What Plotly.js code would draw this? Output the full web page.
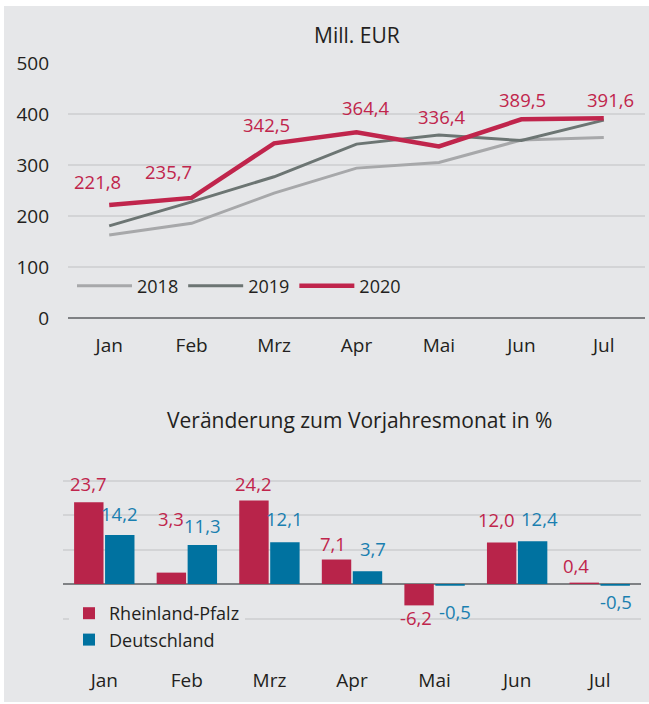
<!DOCTYPE html>
<html>
<head>
<meta charset="utf-8">
<script src="https://cdn.plot.ly/plotly-3.0.1.min.js"></script>
<style>
html,body{margin:0;padding:0;background:#ffffff;}
#chart{position:absolute;left:4px;top:6px;width:645px;height:696px;}
</style>
</head>
<body>
<div id="chart"></div>
<script>
// ---- data ----
const months = ['Jan','Feb','Mrz','Apr','Mai','Jun','Jul'];
const y2018 = [163, 186, 245, 294, 305, 349, 354];
const y2019 = [181, 228, 277, 341, 359, 348, 388];
const y2020 = [221.8, 235.7, 342.5, 364.4, 336.4, 389.5, 391.6];
const rlp = [23.7, 3.3, 24.2, 7.1, -6.2, 12.0, 0.4];
const deu = [14.2, 11.3, 12.1, 3.7, -0.5, 12.4, -0.5];
const yTicks = [0, 100, 200, 300, 400, 500];

// ---- style ----
const FONT = 'Open Sans, sans-serif';
const TXT = '#231f20';
const BG = '#e6e7e9';
const GRID = '#d3d4d6';
const ZERO = '#7f8184';
const RED = '#c0254c';
const BAR_RED = '#b8244a';
const BAR_BLUE = '#0072a0';
const LBL_BLUE = '#1a7fb0';
const TICK_SIZE = 19, LBL_SIZE = 18.5, TITLE_SIZE = 21, LEG_SIZE = 18;
// label offsets (px) [xshift, yshift]
const lineLblShift = [[-12,23],[-23,26],[-8,19],[9,25],[3,30],[1,20],[7,19]];
const rlpShift = [[0,19],[0,54],[0,17],[-4,16],[-3,-12],[-5,23],[-8,17]];
const deuShift = [[0,22],[0,20],[0,24],[5,23],[5,-26],[7,23],[1,-16]];
const BAROFF = 15.5;

const fmt = v => v.toFixed(1).replace('.', ',');

const traces = [
  {type:'scatter', mode:'lines', name:'2018', x:months, y:y2018, xaxis:'x', yaxis:'y',
   line:{color:'#a7a8aa', width:3}, legend:'legend', hoverinfo:'skip'},
  {type:'scatter', mode:'lines', name:'2019', x:months, y:y2019, xaxis:'x', yaxis:'y',
   line:{color:'#6c7573', width:3}, legend:'legend', hoverinfo:'skip'},
  {type:'scatter', mode:'lines', name:'2020', x:months, y:y2020, xaxis:'x', yaxis:'y',
   line:{color:RED, width:4.5}, legend:'legend', hoverinfo:'skip'},
  {type:'bar', name:'Rheinland-Pfalz', x:months, y:rlp, xaxis:'x2', yaxis:'y2',
   marker:{color:BAR_RED}, legend:'legend2', hoverinfo:'skip'},
  {type:'bar', name:'Deutschland', x:months, y:deu, xaxis:'x2', yaxis:'y2',
   marker:{color:BAR_BLUE}, legend:'legend2', hoverinfo:'skip'}
];

const annotations = [
  {xref:'paper', yref:'paper', x:353/645, y:1-29/696, text:'Mill. EUR', showarrow:false,
   font:{family:FONT, size:TITLE_SIZE, color:TXT}, xanchor:'center', yanchor:'middle'},
  {xref:'paper', yref:'paper', x:355/645, y:1-414/696, text:'Veränderung zum Vorjahresmonat in %', showarrow:false,
   font:{family:FONT, size:TITLE_SIZE, color:TXT}, xanchor:'center', yanchor:'middle'}
];
months.forEach((m,i) => {
  annotations.push({xref:'x', yref:'y', x:m, y:y2020[i], text:fmt(y2020[i]), showarrow:false,
    xshift:lineLblShift[i][0], yshift:lineLblShift[i][1], xanchor:'center', yanchor:'middle',
    font:{family:FONT, size:LBL_SIZE, color:RED}});
  annotations.push({xref:'x2', yref:'y2', x:m, y:rlp[i], text:fmt(rlp[i]), showarrow:false,
    xshift:-BAROFF + rlpShift[i][0], yshift:rlpShift[i][1], xanchor:'center', yanchor:'middle',
    font:{family:FONT, size:LBL_SIZE, color:RED}});
  annotations.push({xref:'x2', yref:'y2', x:m, y:deu[i], text:fmt(deu[i]), showarrow:false,
    xshift:BAROFF + deuShift[i][0], yshift:deuShift[i][1], xanchor:'center', yanchor:'middle',
    font:{family:FONT, size:LBL_SIZE, color:LBL_BLUE}});
});

const layout = {
  width:645, height:696,
  margin:{l:0, r:0, t:0, b:0},
  paper_bgcolor:BG, plot_bgcolor:BG,
  font:{family:FONT, size:TICK_SIZE, color:TXT},
  barmode:'group', bargap:0.25, bargroupgap:0.05,
  xaxis:{domain:[64/645, 641/645], anchor:'y', type:'category', range:[-0.5, 6.5],
    showgrid:false, showline:false, zeroline:false, ticks:'', ticklabelstandoff:14,
    tickfont:{family:FONT, size:TICK_SIZE, color:TXT}, fixedrange:true},
  yaxis:{domain:[1-312.3/696, 1-56.9/696], anchor:'x', range:[0, 500],
    tickvals:yTicks, ticktext:yTicks.map(String), showgrid:true, gridcolor:GRID, gridwidth:2,
    zeroline:true, zerolinecolor:ZERO, zerolinewidth:2, showline:false, ticks:'',
    ticklabelstandoff:18, tickfont:{family:FONT, size:TICK_SIZE, color:TXT}, fixedrange:true},
  xaxis2:{domain:[59/645, 637/645], anchor:'y2', type:'category', range:[-0.5, 6.5],
    showgrid:false, showline:false, zeroline:false, ticks:'', ticklabelstandoff:14,
    tickfont:{family:FONT, size:TICK_SIZE, color:TXT}, fixedrange:true},
  yaxis2:{domain:[1-647/696, 1-440/696], anchor:'x2', range:[-20, 40], dtick:10,
    showticklabels:false, showgrid:true, gridcolor:GRID, gridwidth:2,
    zeroline:true, zerolinecolor:ZERO, zerolinewidth:2.5, showline:false, ticks:'', fixedrange:true},
  legend:{orientation:'h', x:68/645, y:1-280/696, xanchor:'left', yanchor:'middle',
    bgcolor:'rgba(0,0,0,0)', font:{family:FONT, size:LEG_SIZE, color:TXT}, itemwidth:55,
    traceorder:'normal', itemclick:false, itemdoubleclick:false},
  legend2:{orientation:'v', x:65/645, y:1-589/696, xanchor:'left', yanchor:'top',
    bgcolor:BG, font:{family:FONT, size:LEG_SIZE, color:TXT}, itemclick:false, itemdoubleclick:false,
    traceorder:'normal', tracegroupgap:0},
  showlegend:true,
  annotations:annotations
};

Plotly.newPlot('chart', traces, layout, {displayModeBar:false, staticPlot:true});
</script>
</body>
</html>
